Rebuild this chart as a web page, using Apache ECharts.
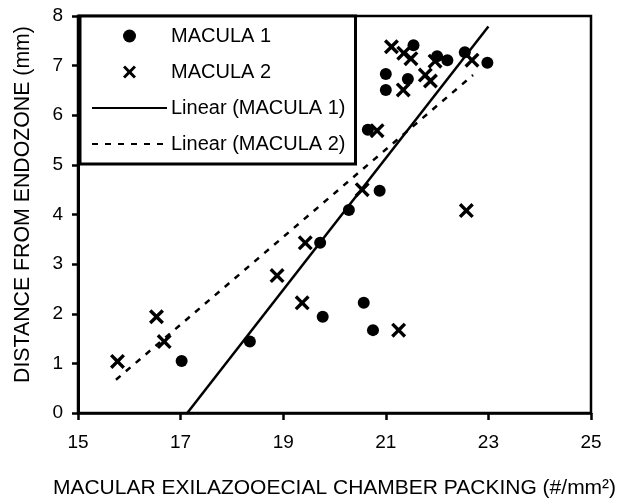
<!DOCTYPE html>
<html>
<head>
<meta charset="utf-8">
<script src="https://cdn.jsdelivr.net/npm/echarts@6/dist/echarts.min.js"></script>
<style>
  html, body { margin: 0; padding: 0; background: #fff; }
  #chart { width: 630px; height: 504px; }
</style>
</head>
<body>
<div id="chart"></div>
<script>
// points: [packing, distance]
var macula1 = [
  [17.02, 1.05], [18.35, 1.44], [19.72, 3.43], [19.77, 1.94], [20.28, 4.09],
  [20.57, 2.22], [20.75, 1.67], [20.88, 4.48], [20.65, 5.71], [21.0, 6.83],
  [21.0, 6.51], [21.43, 6.73], [21.54, 7.41], [22.0, 7.19], [22.2, 7.11],
  [22.54, 7.27], [22.98, 7.06]
];
var macula2 = [
  [15.77, 1.04], [16.53, 1.94], [16.68, 1.44], [18.88, 2.77], [19.37, 2.22],
  [19.43, 3.43], [20.54, 4.5], [20.83, 5.69], [21.25, 1.67], [21.11, 7.38],
  [21.35, 7.25], [21.49, 7.14], [21.34, 6.51], [21.77, 6.81], [21.87, 6.69],
  [21.96, 7.09], [22.57, 4.08], [22.68, 7.11]
];
// trend line ends as drawn in the figure
var trend1 = [[17.13, 0], [23.0, 7.79]];
var trend2 = [[15.74, 0.67], [22.7, 6.81]];

var seriesNames = ['MACULA 1', 'MACULA 2', 'Linear (MACULA 1)', 'Linear (MACULA 2)'];
var xTicks = { min: 15, max: 25, step: 2 };
var yTicks = { min: 0, max: 8, step: 1 };

var font = 'Liberation Sans, Arial, sans-serif';
var cross = 'path://M0,1.6 L1.6,0 L5,3.4 L8.4,0 L10,1.6 L6.6,5 L10,8.4 L8.4,10 L5,6.6 L1.6,10 L0,8.4 L3.4,5 Z';

var myChart = echarts.init(document.getElementById('chart'));

var option = {
  animation: false,
  backgroundColor: '#fff',
  grid: {
    left: 78, right: 39, top: 16, bottom: 88,
    show: true, borderColor: '#000', borderWidth: 2.5
  },
  legend: {
    orient: 'vertical',
    left: 80, top: 16,
    width: 280,
    padding: [10, 10, 10, 11],
    itemWidth: 75, itemHeight: 13, itemGap: 16,
    backgroundColor: '#fff',
    borderColor: '#000', borderWidth: 3,
    textStyle: { fontFamily: font, fontSize: 20, color: '#000', lineHeight: 20, padding: [0, 0, 0, -1] },
    data: [
      seriesNames[0],
      seriesNames[1],
      { name: seriesNames[2], itemStyle: { opacity: 0 } },
      { name: seriesNames[3], itemStyle: { opacity: 0 } }
    ]
  },
  xAxis: {
    type: 'value',
    min: xTicks.min, max: xTicks.max, interval: xTicks.step,
    name: 'MACULAR EXILAZOOECIAL CHAMBER PACKING (#/mm²)',
    nameLocation: 'middle', nameGap: 65,
    nameTextStyle: { fontFamily: font, fontSize: 21, color: '#000' },
    axisLine: { lineStyle: { color: '#000', width: 2.5 } },
    axisTick: { show: true, length: 7, lineStyle: { color: '#000', width: 2.5 } },
    axisLabel: { fontFamily: font, fontSize: 19, color: '#000', margin: 20 },
    splitLine: { show: false }
  },
  yAxis: {
    type: 'value',
    min: yTicks.min, max: yTicks.max, interval: yTicks.step,
    name: 'DISTANCE FROM ENDOZONE (mm)',
    nameLocation: 'middle', nameGap: 44,
    nameTextStyle: { fontFamily: font, fontSize: 21.3, color: '#000', padding: [0, 0, 0, 20] },
    axisLine: { show: true, lineStyle: { color: '#000', width: 3 } },
    axisTick: { show: true, length: 6, lineStyle: { color: '#000', width: 2.5 } },
    axisLabel: { fontFamily: font, fontSize: 19, color: '#000', margin: 15 },
    splitLine: { show: false }
  },
  series: [
    {
      name: seriesNames[0], type: 'scatter', data: macula1,
      symbol: 'circle', symbolSize: 12,
      itemStyle: { color: '#000', opacity: 1 }, z: 3
    },
    {
      name: seriesNames[1], type: 'scatter', data: macula2,
      symbol: cross, symbolSize: 15,
      itemStyle: { color: '#000', opacity: 1 }, z: 3
    },
    {
      name: seriesNames[2], type: 'line', data: trend1,
      symbol: 'none', color: '#000',
      lineStyle: { color: '#000', width: 2.5, type: 'solid' }
    },
    {
      name: seriesNames[3], type: 'line', data: trend2,
      symbol: 'none', color: '#000',
      lineStyle: { color: '#000', width: 2.5, type: [6, 7] }
    }
  ]
};

option && myChart.setOption(option);
</script>
</body>
</html>
